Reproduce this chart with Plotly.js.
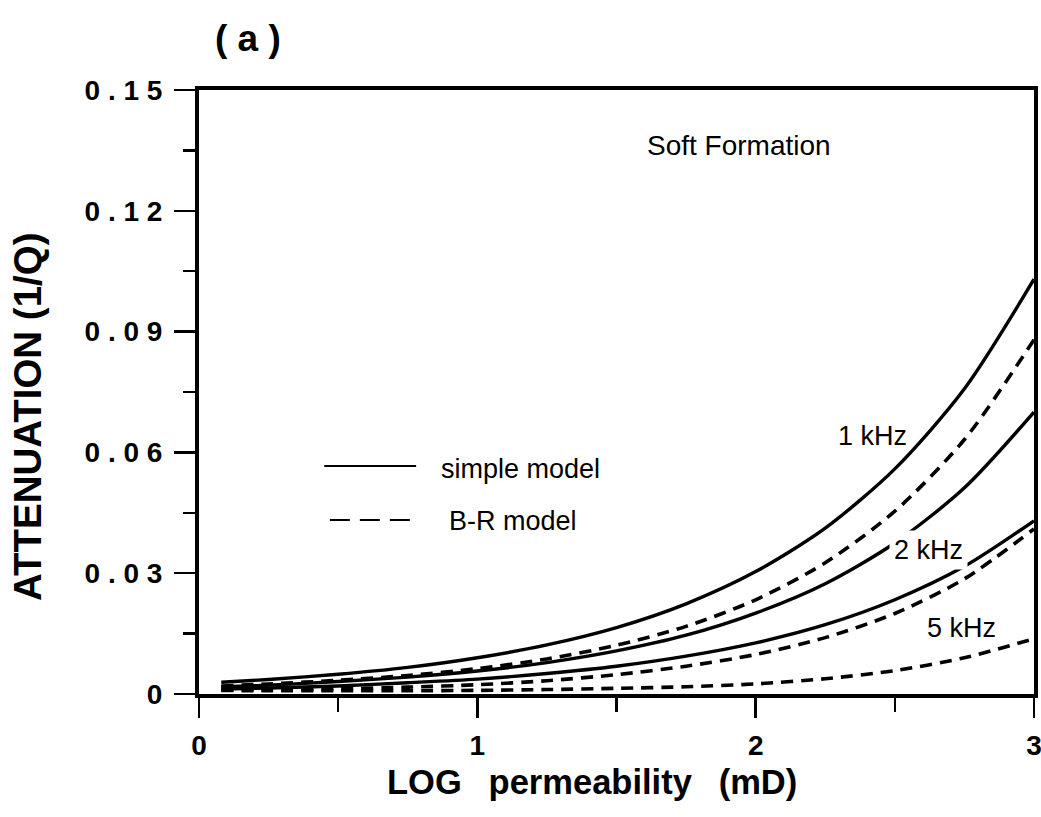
<!DOCTYPE html>
<html>
<head>
<meta charset="utf-8">
<script src="https://cdn.plot.ly/plotly-3.0.1.min.js"></script>
<style>
  html, body { margin: 0; padding: 0; background: #ffffff; }
  #chart { width: 1041px; height: 817px; }
</style>
</head>
<body>
<div id="chart"></div>
<script>
// ---- data ----
const logPerm   = [0.08, 0.25, 0.5, 0.75, 1.0, 1.25, 1.5, 1.75, 2.0, 2.25, 2.5, 2.75, 3.0];
const simple1k  = [0.0029, 0.0036, 0.0049, 0.0066, 0.0090, 0.0122, 0.0165, 0.0224, 0.0304, 0.0412, 0.0559, 0.0758, 0.1030];
const br1k      = [0.0020, 0.0025, 0.0034, 0.0046, 0.0063, 0.0087, 0.0121, 0.0168, 0.0234, 0.0326, 0.0454, 0.0632, 0.0880];
const simple2k  = [0.0018, 0.0022, 0.0031, 0.0042, 0.0057, 0.0078, 0.0107, 0.0146, 0.0201, 0.0274, 0.0375, 0.0512, 0.0700];
const br2k      = [0.0010, 0.0011, 0.0013, 0.0017, 0.0023, 0.0033, 0.0048, 0.0069, 0.0098, 0.0140, 0.0200, 0.0286, 0.0410];
const simple5k  = [0.0012, 0.0015, 0.0020, 0.0028, 0.0037, 0.0051, 0.0069, 0.0094, 0.0127, 0.0172, 0.0234, 0.0317, 0.0430];
const br5k      = [0.0009, 0.0008, 0.0008, 0.0008, 0.0009, 0.0011, 0.0014, 0.0018, 0.0025, 0.0038, 0.0058, 0.0090, 0.0137];

const yTickVals  = [0, 0.03, 0.06, 0.09, 0.12, 0.15];
const yTickText  = ['0', '0 . 0 3', '0 . 0 6', '0 . 0 9', '0 . 1 2', '0 . 1 5'];
const xTickVals  = [0, 1, 2, 3];
const xTickText  = ['0', '1', '2', '3'];

const freqLabels = ['1 kHz', '2 kHz', '5 kHz'];
const freqLabelX = [2.42, 2.62, 2.74];
const freqLabelY = [0.0640, 0.0358, 0.0165];

const legendNames = ['simple model', 'B-R model'];

// ---- styling ----
const FONT = 'Liberation Sans';
const solid = {color: '#000', width: 3.4, dash: 'solid', shape: 'spline', smoothing: 0.8};
const dashed = {color: '#000', width: 3.6, dash: '12px,8px', shape: 'spline', smoothing: 0.8};

function tr(y, line, name) {
  return {x: logPerm, y: y, type: 'scatter', mode: 'lines', line: line, name: name, hoverinfo: 'skip'};
}

const traces = [
  tr(simple1k, solid, 'simple 1 kHz'),
  tr(br1k, dashed, 'B-R 1 kHz'),
  tr(simple2k, solid, 'simple 2 kHz'),
  tr(br2k, dashed, 'B-R 2 kHz'),
  tr(simple5k, solid, 'simple 5 kHz'),
  tr(br5k, dashed, 'B-R 5 kHz')
];

// plot box in pixels
const L = 199, R = 1034, T = 90, B = 694, W = 1041, H = 817;
function px(x) { return (x - L) / (R - L); }
function py(y) { return (B - y) / (B - T); }

function paperText(text, xp, yp, size, extra) {
  return Object.assign({text: text, xref: 'paper', yref: 'paper', x: px(xp), y: py(yp),
    xanchor: 'center', yanchor: 'middle', showarrow: false,
    font: {family: FONT, size: size, color: '#000'}}, extra || {});
}

const annotations = [
  paperText('<b>( a )</b>', 248, 38, 37),
  paperText('<b>ATTENUATION (1/Q)</b>', 28, 417, 38.5, {textangle: -90}),
  paperText('<b>LOG\u2002 permeability\u2002 (mD)</b>', 592, 782, 34.5),
  {text: 'Soft Formation', xref: 'x', yref: 'y', x: 1.94, y: 0.1363, xanchor: 'center', yanchor: 'middle',
   showarrow: false, font: {family: FONT, size: 28, color: '#000'}},
  {text: legendNames[0], xref: 'x', yref: 'y', x: 0.863, y: 0.0558, xanchor: 'left', yanchor: 'middle',
   showarrow: false, font: {family: FONT, size: 27, color: '#000'}},
  {text: legendNames[1], xref: 'x', yref: 'y', x: 0.892, y: 0.0430, xanchor: 'left', yanchor: 'middle',
   showarrow: false, font: {family: FONT, size: 27, color: '#000'}}
];
freqLabels.forEach((t, i) => {
  annotations.push({text: t, xref: 'x', yref: 'y', x: freqLabelX[i], y: freqLabelY[i],
    xanchor: 'center', yanchor: 'middle',
    showarrow: false, bgcolor: i === 1 ? '#fff' : 'rgba(0,0,0,0)', borderpad: 4,
    font: {family: FONT, size: 27, color: '#000'}});
});

const shapes = [
  {type: 'line', xref: 'x', yref: 'y', x0: 0.45, x1: 0.78, y0: 0.0566, y1: 0.0566,
   line: {color: '#000', width: 2}},
  {type: 'line', xref: 'x', yref: 'y', x0: 0.47, x1: 0.78, y0: 0.0432, y1: 0.0432,
   line: {color: '#000', width: 2, dash: '20px,10px'}}
];

const layout = {
  width: W, height: H,
  margin: {l: L, r: W - R, t: T, b: H - B, pad: 0},
  paper_bgcolor: '#fff', plot_bgcolor: '#fff',
  font: {family: FONT},
  showlegend: false,
  xaxis: {
    range: [0, 3], showgrid: false, zeroline: false,
    showline: true, linewidth: 4, linecolor: '#000', mirror: true,
    ticks: 'outside', ticklen: 20, tickwidth: 2.5, tickcolor: '#000',
    tickmode: 'array', tickvals: xTickVals, ticktext: xTickText,
    ticklabeloverflow: 'allow', ticklabelstandoff: 3,
    tickfont: {family: FONT, size: 28, color: '#000', weight: 700},
    minor: {tickmode: 'linear', tick0: 0, dtick: 0.5, ticks: 'outside', ticklen: 14, tickwidth: 2.5, tickcolor: '#000', showgrid: false}
  },
  yaxis: {
    range: [0, 0.15], showgrid: false, zeroline: false,
    showline: true, linewidth: 4, linecolor: '#000', mirror: true,
    ticks: 'outside', ticklen: 21, tickwidth: 2.5, tickcolor: '#000',
    tickmode: 'array', tickvals: yTickVals, ticktext: yTickText,
    ticklabeloverflow: 'allow', ticklabelstandoff: 6,
    tickfont: {family: FONT, size: 28, color: '#000', weight: 700},
    minor: {tickmode: 'linear', tick0: 0, dtick: 0.015, ticks: 'outside', ticklen: 12, tickwidth: 2.5, tickcolor: '#000', showgrid: false}
  },
  annotations: annotations,
  shapes: shapes
};

Plotly.newPlot('chart', traces, layout, {staticPlot: true, displayModeBar: false});
</script>
</body>
</html>
